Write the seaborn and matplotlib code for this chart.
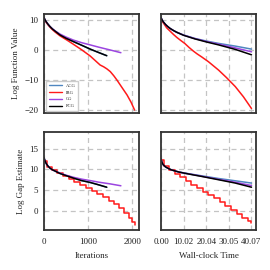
import numpy as np
import pandas as pd
import matplotlib
matplotlib.use("Agg")
import matplotlib.pyplot as plt
import seaborn as sns

# ---------------- data ----------------
methods = ["ACG", "IRG", "CG", "PCG"]
colors = {"ACG": "#4f86c0", "IRG": "#ff1a1a", "CG": "#9b45e0", "PCG": "#000000"}

# Log function value vs iterations
it_pcg = [0, 25, 50, 90, 136, 190, 250, 364, 500, 666, 850, 1045, 1230, 1420]
fv_pcg_it = [10.8, 10.0, 9.4, 8.6, 7.8, 7.0, 6.3, 5.0, 3.9, 2.8, 1.6, 0.3, -0.8, -1.9]
it_acg = [0, 25, 50, 90, 136, 190, 250, 364, 500, 666, 850, 1045, 1230, 1420]
fv_acg_it = [10.8, 10.0, 9.4, 8.6, 7.8, 7.0, 6.3, 5.0, 3.9, 2.8, 1.6, 0.3, -0.8, -1.9]
it_cg = [0, 25, 50, 90, 136, 190, 250, 364, 500, 666, 850, 1045, 1250, 1500, 1740]
fv_cg_it = [10.8, 10.0, 9.4, 8.6, 7.8, 7.1, 6.4, 5.3, 4.3, 3.3, 2.45, 1.7, 0.9, 0.0, -0.9]
it_irg = [0, 25, 50, 90, 136, 190, 250, 364, 520, 666, 850, 1045, 1180, 1270,
          1350, 1424, 1500, 1580, 1650, 1760, 1880, 1970, 2050]
fv_irg_it = [10.5, 9.8, 9.2, 8.4, 7.6, 6.8, 6.0, 4.7, 3.3, 1.9, 0.1, -2.0, -3.8, -5.0,
             -5.6, -6.3, -7.2, -8.6, -10.0, -12.4, -15.0, -17.4, -20.0]

# Log function value vs wall-clock time
t_pcg = [0, 0.5, 1, 2, 3, 4, 5.5, 7, 10, 15, 20, 25.5, 32.9, 40.07]
fv_pcg_t = [10.8, 10.0, 9.4, 8.5, 7.8, 7.2, 6.5, 5.9, 4.9, 3.7, 2.7, 1.7, 0.2, -1.6]
t_acg = [0, 0.5, 1, 2, 3, 4, 5.5, 7, 10, 15, 20, 25.5, 32.9, 40.07]
fv_acg_t = [10.8, 10.0, 9.4, 8.5, 7.8, 7.2, 6.5, 5.9, 5.0, 3.85, 3.0, 2.2, 1.3, 0.3]
t_cg = [0, 0.5, 1, 2, 3, 4, 5.5, 7, 10, 15, 20, 25.5, 32.9, 40.07]
fv_cg_t = [10.8, 10.0, 9.4, 8.5, 7.8, 7.2, 6.5, 5.9, 4.95, 3.8, 2.85, 1.95, 0.7, -0.6]
t_irg = [0, 0.7, 1.5, 2.5, 4, 5.5, 7, 8.7, 10.5, 12.5, 14.4, 16, 18, 21, 25.5,
         29, 32.9, 36.5, 40.07]
fv_irg_t = [10.5, 9.4, 8.5, 7.4, 6.3, 5.2, 4.2, 3.2, 2.2, 0.8, -0.4, -1.3, -2.3,
            -3.9, -6.7, -9.2, -12.2, -15.6, -19.5]

# Log gap estimate vs iterations
gp_pcg_it = [12.8, 12.0, 11.4, 10.8, 10.3, 9.9, 9.6, 9.0, 8.5, 7.9, 7.3, 6.85, 6.3, 5.7]
gp_acg_it = [12.8, 12.0, 11.4, 10.8, 10.3, 9.9, 9.6, 9.0, 8.5, 7.9, 7.3, 6.85, 6.3, 5.7]
gp_cg_it = [12.8, 12.0, 11.4, 10.8, 10.3, 9.9, 9.6, 9.1, 8.6, 8.1, 7.65, 7.3, 6.9, 6.5, 6.05]
it_irg_gap = [0, 60, 180, 300, 430, 560, 690, 820, 950, 1080, 1210, 1340,
              1460, 1580, 1700, 1810, 1920, 2000, 2050]
gp_irg_it = [12.0, 10.6, 9.9, 9.2, 8.5, 7.6, 6.9, 6.3, 5.6, 4.9, 4.1, 3.3,
             2.5, 1.6, 0.6, -0.4, -1.6, -2.6, -3.4]

# Log gap estimate vs wall-clock time
t_gap = [0, 0.5, 1, 2, 3.3, 4.5, 6, 8, 10.7, 14, 18, 25.5, 32.9, 40.07]
gp_pcg_t = [12.5, 11.6, 11.1, 10.6, 10.2, 9.9, 9.65, 9.35, 9.05, 8.7, 8.3, 7.5, 6.7, 5.7]
gp_acg_t = [12.5, 11.6, 11.1, 10.6, 10.2, 9.9, 9.65, 9.35, 9.1, 8.8, 8.45, 7.8, 7.25, 6.7]
gp_cg_t = [12.5, 11.6, 11.1, 10.6, 10.2, 9.9, 9.65, 9.35, 9.05, 8.75, 8.35, 7.6, 6.9, 6.1]
t_irg_gap = [0, 1.3, 3.5, 6, 8.5, 11, 13.5, 16, 18.5, 21, 23.5, 26, 28.5,
             31, 33.5, 36, 38.5, 40.07]
gp_irg_t = [12.3, 10.8, 9.8, 9.0, 8.1, 7.1, 6.3, 5.4, 4.6, 3.9, 3.0, 2.1,
            1.3, 0.3, -0.7, -1.6, -2.5, -3.0]

time_ticks = [0.00, 10.02, 20.04, 30.05, 40.07]
time_tick_labels = ["0.00", "10.02", "20.04", "30.05", "40.07"]

# ---------------- style ----------------
sns.set_style("whitegrid")
plt.rcParams["font.family"] = ["Liberation Serif", "DejaVu Serif"]

fig = plt.figure(figsize=(2.7, 2.7), dpi=100)
W = H = 270.0
def box(l, r, t, b):
    return [l / W, 1 - b / H, (r - l) / W, (b - t) / H]

ax_tl = fig.add_axes(box(44, 139, 14, 113))
ax_tr = fig.add_axes(box(161, 256, 14, 113))
ax_bl = fig.add_axes(box(44, 139, 132, 230))
ax_br = fig.add_axes(box(161, 256, 132, 230))

def draw(ax, x, y, name, steps=False):
    df = pd.DataFrame({"x": x, "y": y})
    kw = dict(drawstyle="steps-post") if steps else {}
    sns.lineplot(data=df, x="x", y="y", ax=ax, color=colors[name], lw=1.1,
                 label=name, sort=False, estimator=None, **kw)

# top left
draw(ax_tl, it_acg, fv_acg_it, "ACG")
draw(ax_tl, it_irg, fv_irg_it, "IRG")
draw(ax_tl, it_cg, fv_cg_it, "CG")
draw(ax_tl, it_pcg, fv_pcg_it, "PCG")
# top right
draw(ax_tr, t_acg, fv_acg_t, "ACG")
draw(ax_tr, t_irg, fv_irg_t, "IRG")
draw(ax_tr, t_cg, fv_cg_t, "CG")
draw(ax_tr, t_pcg, fv_pcg_t, "PCG")
# bottom left
draw(ax_bl, it_acg, gp_acg_it, "ACG")
draw(ax_bl, it_irg_gap, gp_irg_it, "IRG", steps=True)
draw(ax_bl, it_cg, gp_cg_it, "CG")
draw(ax_bl, it_pcg, gp_pcg_it, "PCG")
# bottom right
draw(ax_br, t_gap, gp_acg_t, "ACG")
draw(ax_br, t_irg_gap, gp_irg_t, "IRG", steps=True)
draw(ax_br, t_gap, gp_cg_t, "CG")
draw(ax_br, t_gap, gp_pcg_t, "PCG")

for ax in (ax_tl, ax_tr, ax_bl, ax_br):
    ax.grid(True, ls=(0, (4, 3)), color="#c4c4c4", lw=0.9)
    for s in ax.spines.values():
        s.set_color("#333333")
        s.set_linewidth(1.3)
    ax.tick_params(length=0, labelsize=6.5, pad=4, colors="#222222")
    ax.tick_params(axis="x", pad=6)
    ax.set_xlabel("")
    ax.set_ylabel("")
    if ax is not ax_tl:
        leg = ax.get_legend()
        if leg is not None:
            leg.remove()

for ax in (ax_tl, ax_bl):
    ax.set_xlim(0, 2150)
    ax.set_xticks([0, 1000, 2000])
for ax in (ax_tr, ax_br):
    ax.set_xlim(0, 42.07)
    ax.set_xticks(time_ticks)

for ax in (ax_tl, ax_tr):
    ax.set_ylim(-21, 12)
    ax.set_yticks([-20, -10, 0, 10])
    ax.set_xticklabels([])
for ax in (ax_bl, ax_br):
    ax.set_ylim(-4.6, 19)
    ax.set_yticks([0, 5, 10, 15])

ax_tl.set_yticklabels(["\u221220", "\u221210", "0", "10"])
ax_tr.set_yticklabels([])
ax_br.set_yticklabels([])
ax_br.set_xticklabels(time_tick_labels)
ax_bl.set_xticklabels(["0", "1000", "2000"])

ax_tl.set_ylabel("Log Function Value", fontsize=6.5, labelpad=3)
ax_bl.set_ylabel("Log Gap Estimate", fontsize=6.5, labelpad=3)
ax_bl.set_xlabel("Iterations", fontsize=6.5, labelpad=4)
ax_br.set_xlabel("Wall-clock Time", fontsize=6.5, labelpad=4)

leg = ax_tl.legend(loc="lower left", fontsize=3.3, frameon=True,
                   handlelength=3, borderpad=0.5, labelspacing=0.6,
                   fancybox=False, edgecolor="#cccccc", framealpha=1)
for line in leg.get_lines():
    line.set_linewidth(1.0)

fig.savefig("out.png", dpi=100)
